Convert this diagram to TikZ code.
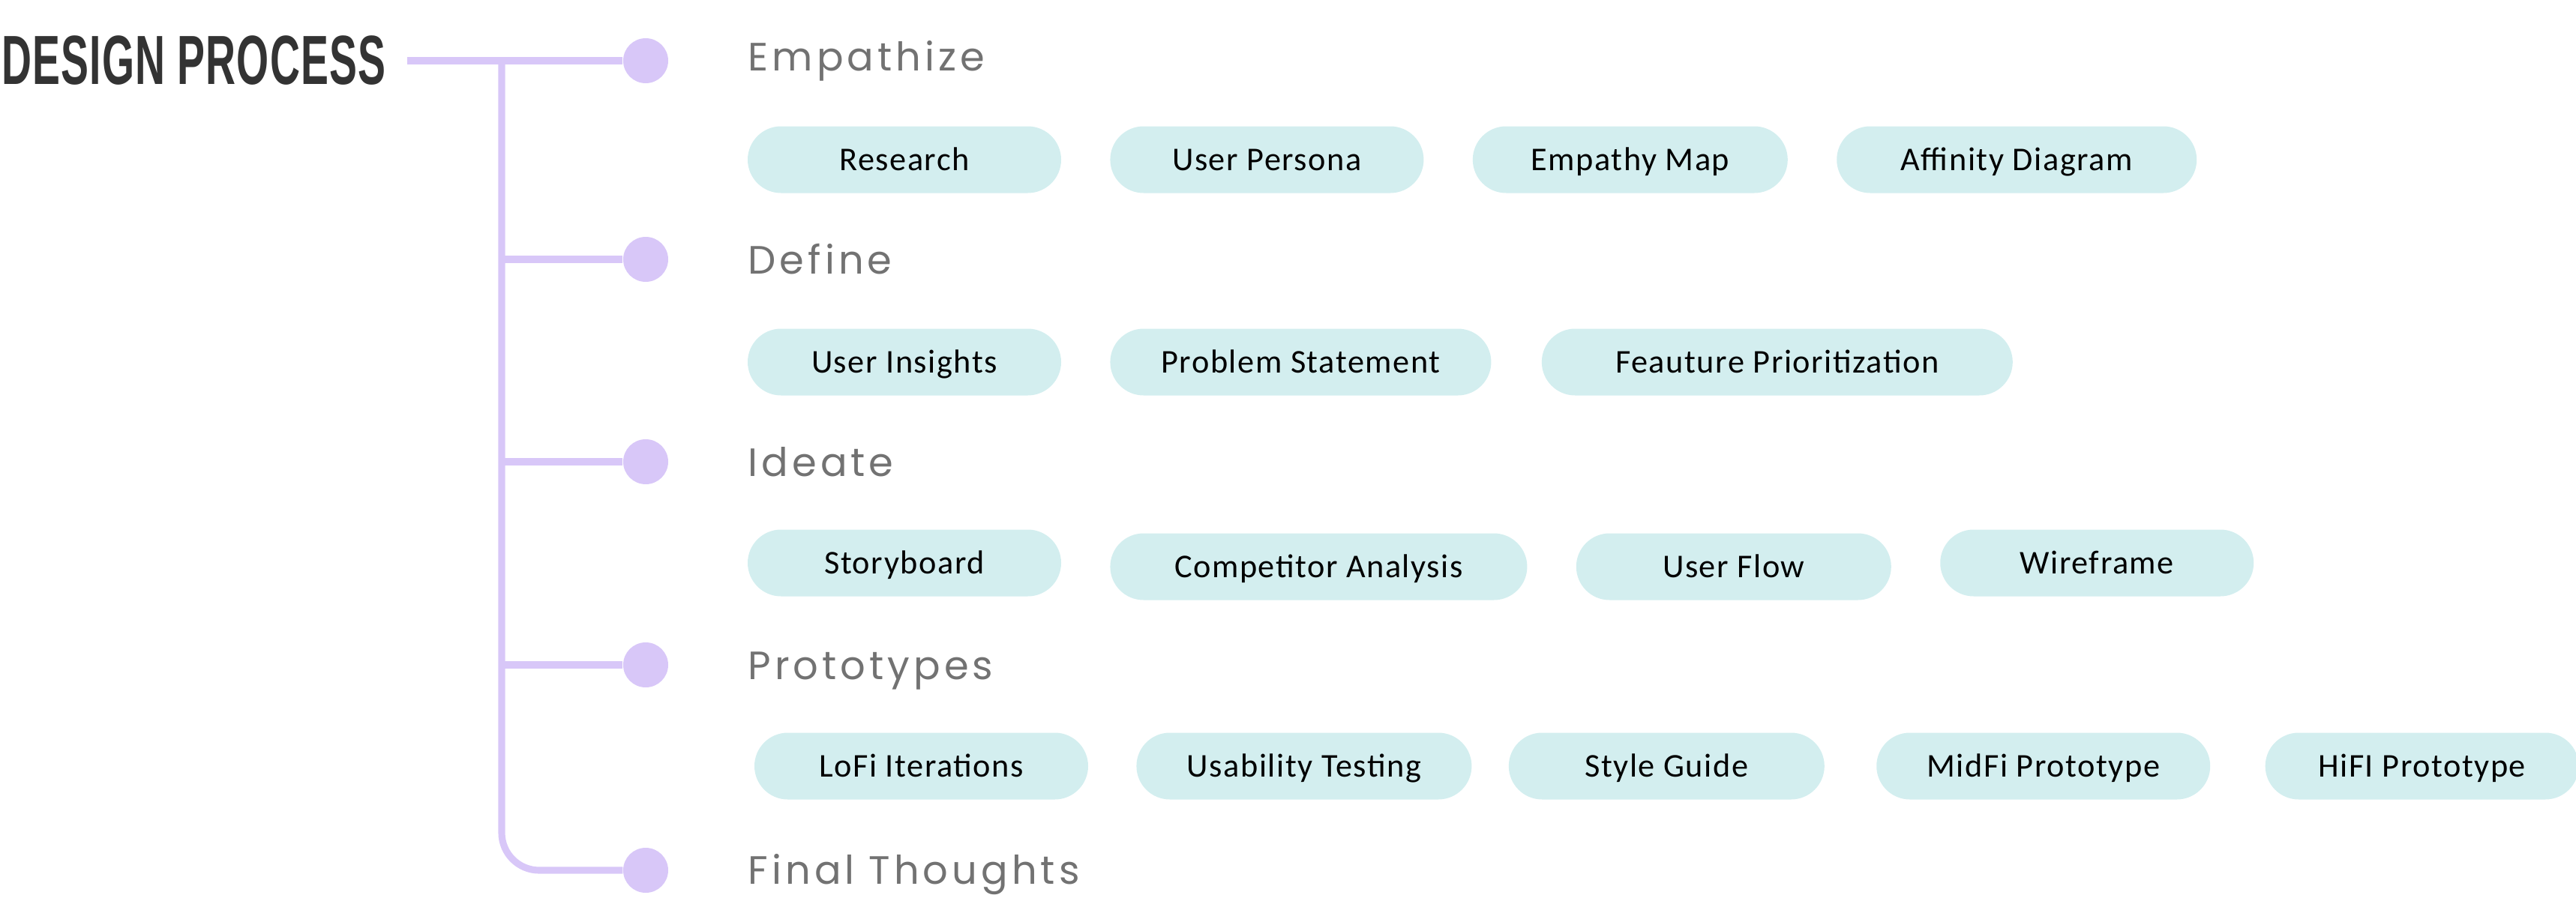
\documentclass[tikz,border=0pt]{standalone}
\usepackage{fontspec}
\setmainfont{Carlito}[LetterSpace=3.5]
\newfontfamily\headfont{Liberation Sans}[LetterSpace=2]
\newfontfamily\stagefont{Poppins}[LetterSpace=9.5]
\usetikzlibrary{positioning}
\definecolor{lilac}{HTML}{D8C7F8}
\definecolor{paleteal}{HTML}{D3EEEF}
\definecolor{stagegray}{HTML}{727272}
\definecolor{titlegray}{HTML}{333333}

\begin{document}
\begin{tikzpicture}[
  dot/.style = {circle, fill=lilac, minimum size=0.6cm, inner sep=0},
  branch/.style = {draw=lilac, line width=2.6pt},
  stage/.style = {anchor=base west, inner sep=0, text=stagegray, font=\stagefont\fontsize{15}{18}\selectfont},
  pill/.style = {fill=paleteal, rounded corners=0.445cm, minimum height=0.89cm, inner sep=0,
                 text height=0.28cm, text depth=0pt, font=\fontsize{12.6}{15}\selectfont}
]
\useasboundingbox (0,0) rectangle (34.35,-12.21);

% title and trunk
\node[anchor=west, inner sep=0, text=titlegray] (title) at (0.02,-0.81)
  {\scalebox{0.62}[1.04]{\headfont\bfseries\fontsize{25.4}{30}\selectfont DESIGN PROCESS}};
\coordinate (start) at (5.43,-0.81);
\coordinate (joint) at (6.69,-0.81);

\node[dot] (c1) at (8.61,-0.81) {};
\node[dot] (c2) at (8.61,-3.46) {};
\node[dot] (c3) at (8.61,-6.16) {};
\node[dot] (c4) at (8.61,-8.87) {};
\node[dot] (c5) at (8.61,-11.61) {};

\node[stage] (s1) at (9.97,-0.95) {Empathize};
\node[stage] (s2) at (9.97,-3.65) {Define};
\node[stage] (s3) at (9.97,-6.35) {Ideate};
\node[stage] (s4) at (9.97,-9.06) {Prototypes};
\node[stage] (s5) at (9.97,-11.79) {Final Thoughts};

\draw[branch] (start) -- (c1);
\draw[branch, rounded corners=0.5cm] (joint) |- (c5);
\foreach \n in {c2,c3,c4}
  \draw[branch] (joint |- \n) -- (\n);

% empathize
\node[pill, minimum width=4.18cm] (research) at (12.06,-2.13) {Research};
\node[pill, minimum width=4.18cm, right=0.64cm of research] (persona) {User Persona};
\node[pill, minimum width=4.20cm, right=0.64cm of persona] (empmap) {Empathy Map};
\node[pill, minimum width=4.80cm, right=0.64cm of empmap] (affinity) {Affinity Diagram};

% define
\node[pill, minimum width=4.18cm] (insights) at (12.06,-4.83) {User Insights};
\node[pill, minimum width=5.08cm, right=0.64cm of insights] (problem) {Problem Statement};
\node[pill, minimum width=6.28cm, right=0.66cm of problem] (priority) {Feauture Prioritization};

% ideate
\node[pill, minimum width=4.18cm] (story) at (12.06,-7.51) {Storyboard};
\node[pill, minimum width=5.56cm, right=0.64cm of story, yshift=-0.05cm] (compet) {Competitor Analysis};
\node[pill, minimum width=4.20cm, right=0.64cm of compet] (flow) {User Flow};
\node[pill, minimum width=4.18cm, right=0.64cm of flow, yshift=0.05cm] (wire) {Wireframe};

% prototypes
\node[pill, minimum width=4.45cm] (lofi) at (12.285,-10.22) {LoFi Iterations};
\node[pill, minimum width=4.47cm, right=0.63cm of lofi] (usability) {Usability Testing};
\node[pill, minimum width=4.21cm, right=0.48cm of usability] (style) {Style Guide};
\node[pill, minimum width=4.45cm, right=0.68cm of style] (midfi) {MidFi Prototype};
\node[pill, minimum width=4.18cm, right=0.72cm of midfi] (hifi) {HiFI Prototype};
\end{tikzpicture}
\end{document}
